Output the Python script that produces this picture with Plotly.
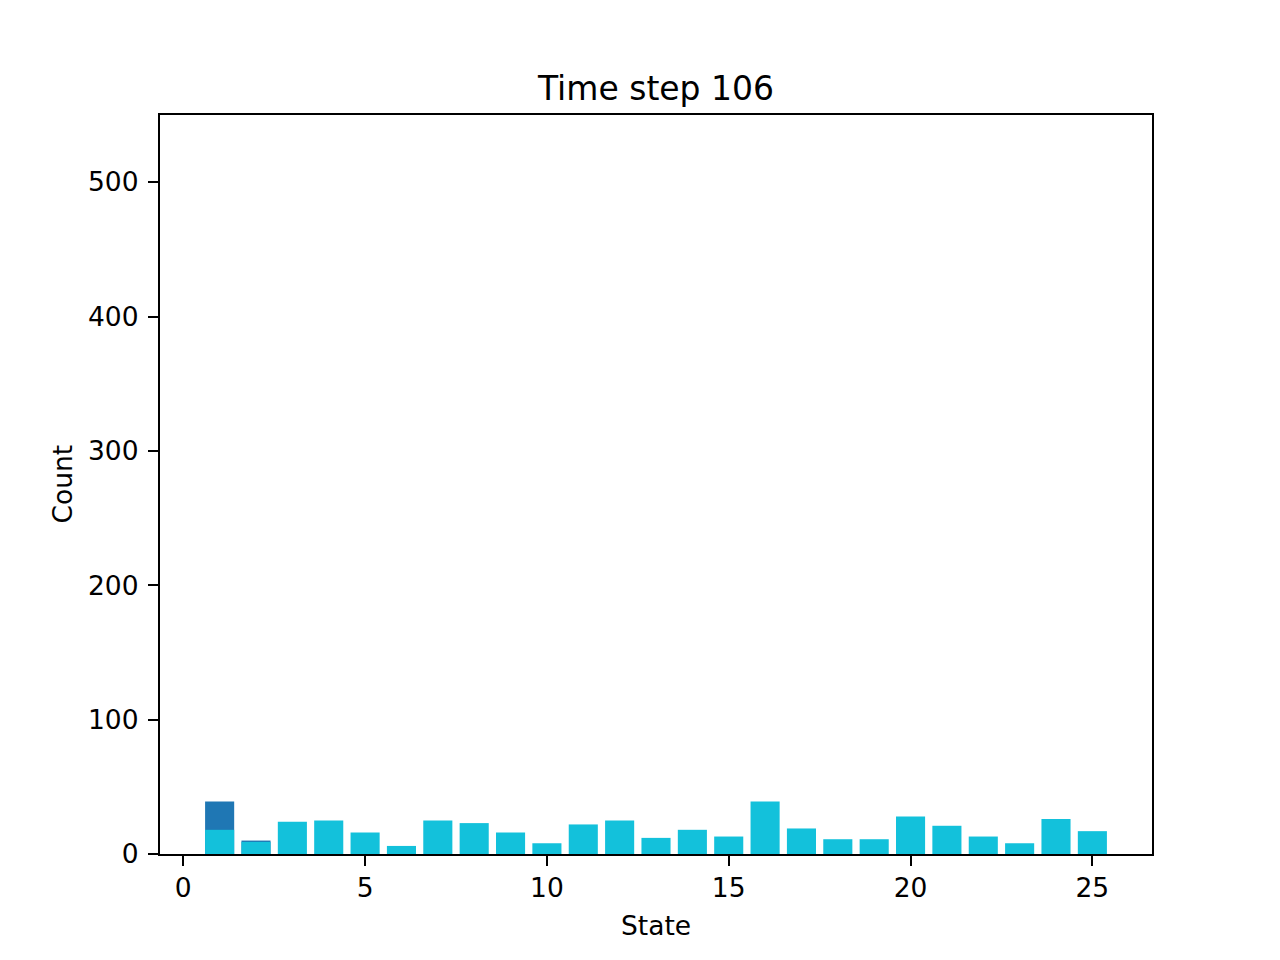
import plotly.graph_objects as go

states = list(range(1, 26))
current_counts = [18, 9, 24, 25, 16, 6, 25, 23, 16, 8, 22, 25, 12, 18, 13, 39, 19, 11, 11, 28, 21, 13, 8, 26, 17]
initial_states = [1, 2]
initial_counts = [39, 10]

title_text = "Time step 106"
x_label = "State"
y_label = "Count"
y_ticks = [0, 100, 200, 300, 400, 500]
x_ticks = [0, 5, 10, 15, 20, 25]

FONT = "DejaVu Sans"
W, H = 1280, 960
L, R, T, B = 160, 128, 115, 106
pw, ph = W - L - R, H - T - B

fig = go.Figure()
fig.add_trace(go.Bar(x=initial_states, y=initial_counts, width=0.8,
                     marker=dict(color="#1f77b4", line=dict(width=0)), showlegend=False))
fig.add_trace(go.Bar(x=states, y=current_counts, width=0.8,
                     marker=dict(color="#13c1db", line=dict(width=0)), showlegend=False))

axis_common = dict(showline=True, linecolor="black", linewidth=2.2, mirror=True,
                   ticks="outside", ticklen=10, tickwidth=2.2, tickcolor="black",
                   showgrid=False, zeroline=False,
                   tickfont=dict(family=FONT, size=26.5, color="black"))

fig.update_layout(
    width=W, height=H,
    margin=dict(l=L, r=R, t=T, b=B, pad=0),
    paper_bgcolor="white", plot_bgcolor="white",
    barmode="overlay",
    font=dict(family=FONT, color="black"),
    title=dict(text=title_text, x=(L + pw / 2) / W, xanchor="center",
               y=1 - 88 / H, yanchor="middle", yref="container",
               font=dict(family=FONT, size=33, color="black")),
    xaxis=dict(range=[-0.64, 26.64], tickvals=x_ticks, ticklabelstandoff=-1, **axis_common),
    yaxis=dict(range=[0, 550], tickvals=y_ticks, ticklabelstandoff=4, **axis_common),
    annotations=[
        dict(text=x_label, xref="paper", yref="paper", x=0.5, y=(854 - 925) / ph,
             xanchor="center", yanchor="middle", showarrow=False,
             font=dict(family=FONT, size=26.5, color="black")),
        dict(text=y_label, xref="paper", yref="paper", x=(62 - L) / pw, y=0.5,
             xanchor="center", yanchor="middle", showarrow=False, textangle=-90,
             font=dict(family=FONT, size=26.5, color="black")),
    ],
)

fig.write_html("out.html")
